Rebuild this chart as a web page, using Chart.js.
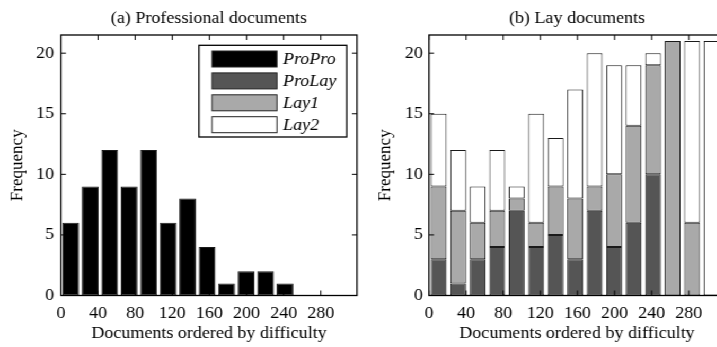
<!DOCTYPE html>
<html><head><meta charset="utf-8">
<script src="https://cdn.jsdelivr.net/npm/chart.js@4"></script>
<style>
html,body{margin:0;padding:0;background:#fff;overflow:hidden;width:717px;height:347px}
#wrap{position:absolute;left:0;top:0;width:690px;height:347px;transform:scaleX(1.06);transform-origin:0 0}
#c1{position:absolute;left:0;top:0}
#c2{position:absolute;left:340px;top:0}
</style></head><body>
<div id="wrap"><canvas id="c1" width="340" height="347"></canvas><canvas id="c2" width="350" height="347"></canvas></div>
<script>
// bin centres (documents ordered by difficulty, bins of 21 documents)
const binCenters = [10.5, 31.5, 52.5, 73.5, 94.5, 115.5, 136.5, 157.5, 178.5, 199.5, 220.5, 241.5, 262.5, 283.5, 304.5];
const proPro = [6, 9, 12, 9, 12, 6, 8, 4, 1, 2, 2, 1, 0, 0, 0];
const proLay = [3, 1, 3, 4, 7, 4, 5, 3, 7, 4, 6, 10, 0, 0, 0];
const lay1   = [6, 6, 3, 3, 1, 2, 4, 5, 2, 6, 8, 9, 21, 6, 0];
const lay2   = [6, 5, 3, 5, 1, 9, 4, 9, 11, 9, 5, 1, 0, 15, 21];
const xTickValues = [0, 40, 80, 120, 160, 200, 240, 280];
const yTickValues = [0, 5, 10, 15, 20];
const seriesNames = ['ProPro', 'ProLay', 'Lay1', 'Lay2'];
const seriesColors = ['#000000', '#555555', '#a9a9a9', '#ffffff'];
const titles = ['(a) Professional documents', '(b) Lay documents'];
const xTitle = 'Documents ordered by difficulty';
const yTitle = 'Frequency';

const FONT = "'Liberation Serif','Times New Roman',serif";
const FS = 17;
Chart.defaults.font.family = FONT;
Chart.defaults.font.size = FS;
Chart.defaults.color = '#000';

const pts = arr => binCenters.map((x, i) => ({x: x, y: arr[i]}));

const boxTicks = {
  id: 'boxTicks',
  afterDatasetsDraw(chart) {
    const {ctx, chartArea: a, scales: {x, y}} = chart;
    ctx.save();
    ctx.strokeStyle = '#000';
    ctx.lineWidth = 1;
    ctx.beginPath();
    x.ticks.forEach(t => {
      const px = x.getPixelForValue(t.value);
      ctx.moveTo(px, a.bottom); ctx.lineTo(px, a.bottom - 5);
      ctx.moveTo(px, a.top); ctx.lineTo(px, a.top + 5);
    });
    y.ticks.forEach(t => {
      const py = y.getPixelForValue(t.value);
      ctx.moveTo(a.left, py); ctx.lineTo(a.left + 4.7, py);
      ctx.moveTo(a.right, py); ctx.lineTo(a.right - 4.7, py);
    });
    ctx.stroke();
    ctx.lineWidth = 1.3;
    ctx.strokeRect(a.left, a.top, a.right - a.left, a.bottom - a.top);
    ctx.restore();
  }
};

const legendBox = {
  id: 'legendBox',
  afterDraw(chart, args, opts) {
    if (!opts.show) return;
    const {ctx, chartArea: a} = chart;
    const w = 139.4, h = 91.7;
    const right = a.right - 9.7, top = a.top + 10.3, left = right - w;
    ctx.save();
    ctx.fillStyle = '#fff';
    ctx.fillRect(left, top, w, h);
    ctx.strokeStyle = '#000';
    ctx.lineWidth = 1.3;
    ctx.strokeRect(left, top, w, h);
    ctx.lineWidth = 1;
    chart.data.datasets.forEach((ds, i) => {
      const ry = top + 5.7 + i * 21.9;
      ctx.fillStyle = ds.backgroundColor;
      ctx.fillRect(left + 12.3, ry, 61.3, 16);
      ctx.strokeStyle = '#222';
      ctx.strokeRect(left + 12.3, ry, 61.3, 16);
      ctx.fillStyle = '#000';
      ctx.font = 'italic ' + FS + 'px ' + FONT;
      ctx.textBaseline = 'middle';
      ctx.textAlign = 'left';
      ctx.fillText(ds.label, left + 79.3, ry + 8.5);
    });
    ctx.restore();
  }
};

function makeChart(canvas, datasets, opt) {
  return new Chart(canvas, {
    type: 'bar',
    data: {datasets: datasets},
    plugins: [boxTicks, legendBox],
    options: {
      responsive: false,
      animation: false,
      devicePixelRatio: 1,
      layout: {padding: {left: 0, right: opt.rightPad, top: 0, bottom: 0}},
      plugins: {
        legend: {display: false},
        tooltip: {enabled: false},
        title: {display: true, text: opt.title, fullSize: false, padding: {top: 8.8, bottom: 5.8}, font: {size: FS, weight: 'normal'}, color: '#000'},
        legendBox: {show: opt.legend}
      },
      scales: {
        x: {
          type: 'linear', stacked: true, offset: false, min: 0, max: 319,
          grid: {display: false, drawTicks: false, offset: false},
          border: {display: false},
          ticks: {padding: 8.3, maxRotation: 0, minRotation: 0, autoSkip: false, font: {size: FS}},
          afterBuildTicks(s) { s.ticks = xTickValues.map(v => ({value: v})); },
          title: {display: true, text: xTitle, padding: {top: 0, bottom: 2.8}, font: {size: FS}},
          afterFit(s) { s.height = 51.5; s.paddingLeft = 0; s.paddingRight = 0; }
        },
        y: {
          type: 'linear', stacked: true, min: 0, max: 21.5,
          grid: {display: false, drawTicks: false},
          border: {display: false},
          ticks: {padding: opt.yTickPad, font: {size: FS}},
          afterBuildTicks(s) { s.ticks = yTickValues.map(v => ({value: v})); },
          title: {display: true, text: yTitle, padding: {top: opt.yTitlePad, bottom: 0}, font: {size: FS}},
          afterFit(s) { s.width = opt.yWidth; s.paddingTop = 0; s.paddingBottom = 0; }
        }
      }
    }
  });
}

const barStyle = (i, bp) => ({
  label: seriesNames[i],
  backgroundColor: seriesColors[i],
  borderColor: '#1a1a1a',
  borderWidth: 1,
  borderSkipped: false,
  barPercentage: bp,
  categoryPercentage: 1
});

makeChart(document.getElementById('c1'), [
  Object.assign(barStyle(0, 0.86), {data: pts(proPro)}),
  Object.assign(barStyle(1, 0.86), {data: []}),
  Object.assign(barStyle(2, 0.86), {data: []}),
  Object.assign(barStyle(3, 0.86), {data: []})
], {title: titles[0], rightPad: 3.2, yWidth: 57.5, yTickPad: 6.5, yTitlePad: 6.3, legend: true});

makeChart(document.getElementById('c2'), [
  Object.assign(barStyle(1, 0.81), {data: pts(proLay)}),
  Object.assign(barStyle(2, 0.81), {data: pts(lay1)}),
  Object.assign(barStyle(3, 0.81), {data: pts(lay2)})
], {title: titles[1], rightPad: 6, yWidth: 64.7, yTickPad: 5.7, yTitlePad: 13.5, legend: false});
</script>
</body></html>
